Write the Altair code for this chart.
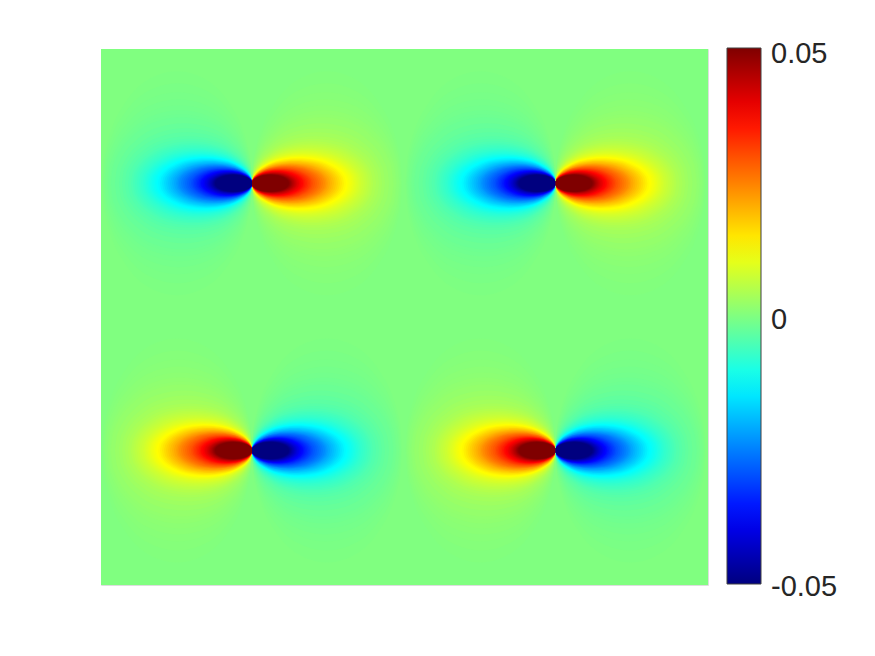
import altair as alt
import pandas as pd

alt.data_transformers.disable_max_rows()

# Colour bar (jet)
COLOR_STOPS = [-0.05, -0.0375, -0.0125, 0.0125, 0.0375, 0.05]
COLOR_RANGE = ["#00007f", "#0000ff", "#00ffff", "#ffff00", "#ff0000", "#7f0000"]
TICKS = [-0.05, 0, 0.05]
TICK_TEXT = ["-0.05", "0", "0.05"]
TICK_TEXT_Y = [547, 280, 14]

# Field extent, in units of the picture
X_EXTENT = [0, 607]
Y_EXTENT = [0, 536]

# Dipole centres and the sign of their left-hand lobe
DIPOLE_X = [151, 454.5, 151, 454.5]
DIPOLE_Y = [134.3, 134.3, 401.5, 401.5]
LEFT_SIGN = [-1, -1, 1, 1]

# Contour levels read from one lobe: value, length along x, half height
LEVELS = [0.00025, 0.0005, 0.00075, 0.001, 0.00125, 0.0015, 0.00175, 0.002,
          0.0025, 0.003, 0.0035, 0.004, 0.0045, 0.005, 0.0055, 0.006, 0.0065,
          0.007, 0.0075, 0.008, 0.0085, 0.009, 0.0095, 0.010, 0.0105, 0.011,
          0.0115, 0.012, 0.0125,
          0.013, 0.014, 0.015, 0.016, 0.017, 0.018, 0.019, 0.020, 0.021, 0.022,
          0.023, 0.024, 0.025, 0.026, 0.027, 0.028, 0.029, 0.030, 0.031, 0.032,
          0.033, 0.034, 0.035, 0.036, 0.037, 0.038, 0.039, 0.040, 0.041, 0.042,
          0.043, 0.044, 0.045, 0.046, 0.047, 0.048, 0.049, 0.05]
REACH = [150, 149, 148, 147, 145, 144, 142, 141,
         137, 133, 130, 127, 124, 121, 119, 117, 115,
         113, 111, 109, 107.5, 106, 104.5, 103, 101.5, 100,
         98.5, 97, 95.5,
         94, 92, 90, 88, 86, 84, 82, 80, 78, 76,
         74.5, 73, 71, 69, 67, 65, 63, 61, 59.5, 58,
         56.5, 55, 53.5, 52, 51, 49.5, 48, 47, 45.5, 44.5,
         43.5, 42.5, 41.5, 40.5, 39.7, 38.9, 38, 37]
HALF = [112, 100, 91, 84, 78, 73, 69, 66,
        60, 55, 51, 47, 44.5, 42, 40, 38.5, 37,
        35.5, 34.3, 33, 32, 31, 30, 29.2, 28.5, 27.8,
        27.1, 26.5, 26,
        25.5, 24.7, 23.9, 23.1, 22.4, 21.7, 21, 20.4, 19.8, 19.2,
        18.6, 18, 17.5, 17, 16.5, 16, 15.5, 15, 14.6, 14.2,
        13.8, 13.4, 13, 12.7, 12.4, 12, 11.7, 11.4, 11, 10.7,
        10.4, 10.1, 9.8, 9.5, 9.2, 9, 8.7, 8.5]

# Outline of a lobe (position along it, relative height)
STATION = [0, 0.01, 0.03, 0.07, 0.15, 0.3, 0.5, 0.7, 0.85, 0.93, 0.97, 0.99, 1]
OUTLINE = [0, 0.2, 0.34, 0.51, 0.71, 0.92, 1, 0.92, 0.71, 0.51, 0.34, 0.2, 0]

rows = []
for i, (level, reach, half) in enumerate(zip(LEVELS, REACH, HALF)):
    for d, (cx, cy, sign) in enumerate(zip(DIPOLE_X, DIPOLE_Y, LEFT_SIGN)):
        for side in (-1, 1):
            value = level * sign if side == -1 else -level * sign
            for s, o in zip(STATION, OUTLINE):
                rows.append({
                    "lobe": f"{i:02d}-{d}-{side}",
                    "value": value,
                    "x": round(cx + side * reach * s, 2),
                    "y": round(cy - half * o, 2),
                    "y2": round(cy + half * o, 2),
                })
field = pd.DataFrame(rows)
ground = pd.DataFrame({"x": [X_EXTENT[0]], "x2": [X_EXTENT[1]],
                       "y": [Y_EXTENT[0]], "y2": [Y_EXTENT[1]], "value": [0.0]})
tick_labels = pd.DataFrame({"text": TICK_TEXT, "y": TICK_TEXT_Y})

color = alt.Color(
    "value:Q",
    scale=alt.Scale(domain=COLOR_STOPS, range=COLOR_RANGE, interpolate="rgb"),
    legend=alt.Legend(
        orient="none", legendX=626, legendY=-1, title=None, type="gradient",
        gradientLength=536, gradientThickness=34,
        gradientStrokeColor="#404040", gradientStrokeWidth=1,
        values=TICKS, labelOpacity=0, labelFontSize=1,
    ),
)
xs = alt.Scale(domain=X_EXTENT, nice=False, zero=False)
ys = alt.Scale(domain=Y_EXTENT[::-1], nice=False, zero=False)

back = alt.Chart(ground).mark_rect().encode(
    x=alt.X("x:Q", scale=xs, axis=None), x2="x2:Q",
    y=alt.Y("y:Q", scale=ys, axis=None), y2="y2:Q",
    color=color,
)
lobes = alt.Chart(field).mark_area(interpolate="monotone", orient="vertical", clip=True).encode(
    x=alt.X("x:Q", scale=xs, axis=None),
    y=alt.Y("y:Q", scale=ys, axis=None, stack=None),
    y2="y2:Q",
    detail="lobe:N",
    color=color,
)
tick = alt.Chart(pd.DataFrame({"v": [0]})).mark_rule(color="#404040", strokeWidth=1).encode(
    x=alt.value(654), x2=alt.value(660), y=alt.value(267),
)
labels = alt.Chart(tick_labels).mark_text(
    align="left", baseline="alphabetic", font="Liberation Sans", fontSize=29, color="#262626",
).encode(
    x=alt.value(670),
    y=alt.Y("y:Q", scale=ys, axis=None),
    text="text:N",
)

chart = alt.layer(back, lobes, tick, labels).properties(
    width=607, height=536,
    padding={"left": 93, "top": 41, "right": 150, "bottom": 50},
    autosize=alt.AutoSizeParams(type="none"),
).configure_view(stroke=None).configure(background="white")
chart.save("out.html", embed_options={"renderer": "svg", "actions": False})
